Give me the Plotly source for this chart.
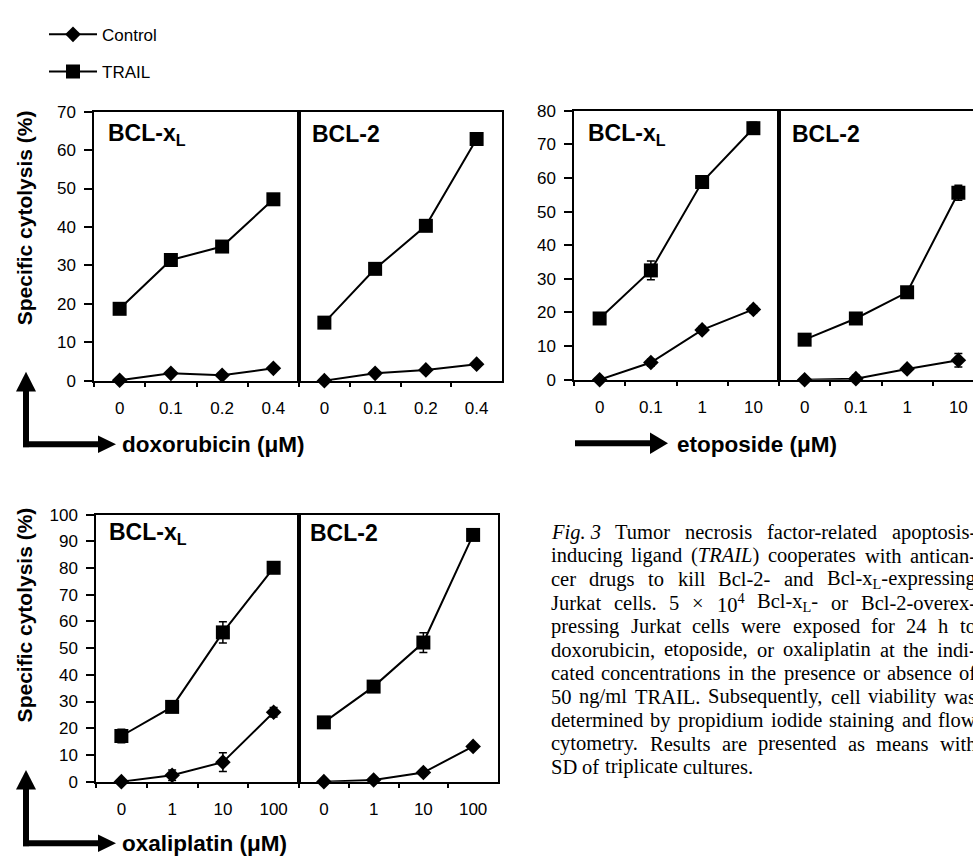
import re
import plotly.graph_objects as go

W, H = 973, 865
SANS = "Liberation Sans, Arial, sans-serif"
SERIF = "Liberation Serif, Times New Roman, serif"

# ---------------- data ----------------
doxo_conc = ["0", "0.1", "0.2", "0.4"]
eto_conc = ["0", "0.1", "1", "10"]
oxa_conc = ["0", "1", "10", "100"]

doxo_xl_control = [0.1, 1.9, 1.4, 3.2]
doxo_xl_control_sd = [0.3, 0.6, 0.5, 0.5]
doxo_xl_trail = [18.7, 31.4, 34.9, 47.2]
doxo_xl_trail_sd = [0.5, 0.8, 0.6, 0.8]
doxo_b2_control = [0.0, 1.9, 2.8, 4.3]
doxo_b2_control_sd = [0.3, 0.5, 0.5, 0.6]
doxo_b2_trail = [15.1, 29.1, 40.3, 62.9]
doxo_b2_trail_sd = [0.8, 1.0, 1.0, 1.2]

eto_xl_control = [0.0, 5.1, 14.8, 20.9]
eto_xl_control_sd = [0.3, 1.0, 1.0, 1.0]
eto_xl_trail = [18.2, 32.5, 58.8, 74.8]
eto_xl_trail_sd = [0.8, 2.8, 1.0, 1.8]
eto_b2_control = [0.0, 0.3, 3.2, 5.8]
eto_b2_control_sd = [0.3, 1.0, 0.6, 2.0]
eto_b2_trail = [11.9, 18.2, 26.0, 55.6]
eto_b2_trail_sd = [0.5, 1.0, 1.0, 2.2]

oxa_xl_control = [0.0, 2.4, 7.3, 26.0]
oxa_xl_control_sd = [0.3, 2.0, 3.5, 1.8]
oxa_xl_trail = [17.1, 28.0, 55.9, 80.1]
oxa_xl_trail_sd = [2.5, 2.0, 4.0, 1.5]
oxa_b2_control = [0.0, 0.6, 3.4, 13.2]
oxa_b2_control_sd = [0.2, 0.5, 1.0, 1.0]
oxa_b2_trail = [22.2, 35.6, 52.1, 92.4]
oxa_b2_trail_sd = [1.0, 1.0, 3.7, 1.0]

y_max = {"doxo": 70, "eto": 80, "oxa": 100}

caption_lines = [
    ["<i>Fig. 3</i>", "Tumor", "necrosis", "factor-related", "apoptosis-"],
    ["inducing", "ligand", "(<i>TRAIL</i>)", "cooperates", "with", "antican-"],
    ["cer", "drugs", "to", "kill", "Bcl-2-", "and", "Bcl-x<sub>L</sub>-expressing"],
    ["Jurkat", "cells.", "5", "\u00d7", "10<sup>4</sup>", "Bcl-x<sub>L</sub>-", "or", "Bcl-2-overex-"],
    ["pressing", "Jurkat", "cells", "were", "exposed", "for", "24", "h", "to"],
    ["doxorubicin,", "etoposide,", "or", "oxaliplatin", "at", "the", "indi-"],
    ["cated", "concentrations", "in", "the", "presence", "or", "absence", "of"],
    ["50", "ng/ml", "TRAIL.", "Subsequently,", "cell", "viability", "was"],
    ["determined", "by", "propidium", "iodide", "staining", "and", "flow"],
    ["cytometry.", "Results", "are", "presented", "as", "means", "with"],
    ["SD", "of", "triplicate", "cultures."],
]


def px(p):
    return p / W


def py(p):
    return 1 - p / H


fig = go.Figure()

panels = [
    dict(key="doxo", cats=doxo_conc, xl=(94, 299, 502), yb=(380, 105),
         data=[(doxo_xl_control, doxo_xl_control_sd, doxo_xl_trail, doxo_xl_trail_sd),
               (doxo_b2_control, doxo_b2_control_sd, doxo_b2_trail, doxo_b2_trail_sd)],
         cut=False),
    dict(key="eto", cats=eto_conc, xl=(574, 779, 973), yb=(379, 104),
         data=[(eto_xl_control, eto_xl_control_sd, eto_xl_trail, eto_xl_trail_sd),
               (eto_b2_control, eto_b2_control_sd, eto_b2_trail, eto_b2_trail_sd)],
         cut=True),
    dict(key="oxa", cats=oxa_conc, xl=(96, 299, 498), yb=(790, 517),
         data=[(oxa_xl_control, oxa_xl_control_sd, oxa_xl_trail, oxa_xl_trail_sd),
               (oxa_b2_control, oxa_b2_control_sd, oxa_b2_trail, oxa_b2_trail_sd)],
         cut=False),
]

layout_axes = {}
ax_i = 0
first = True
for p in panels:
    x0, xm, x1 = p["xl"]
    yb, yt = p["yb"]
    catw = (xm - x0) / 4.0
    for side in range(2):
        ax_i += 1
        xn = "x" if ax_i == 1 else f"x{ax_i}"
        yn = "y" if ax_i == 1 else f"y{ax_i}"
        xk = "xaxis" if ax_i == 1 else f"xaxis{ax_i}"
        yk = "yaxis" if ax_i == 1 else f"yaxis{ax_i}"
        dom = [px(x0), px(xm)] if side == 0 else [px(xm), px(x1)]
        rng_end = 3.5 if side == 0 or not p["cut"] else -0.5 + (x1 - xm) / catw
        layout_axes[xk] = dict(
            domain=dom, anchor=yn, type="category", range=[-0.5, rng_end],
            showline=True, linecolor="black", linewidth=1.5, mirror=True,
            ticks="outside", tickson="boundaries", ticklen=5, tickwidth=1.5,
            tickcolor="black", showgrid=False, zeroline=False,
            tickfont=dict(family=SANS, size=17, color="black"),
            ticklabelstandoff=11,
        )
        ycfg = dict(
            domain=[py(yb), py(yt)], anchor=xn, range=[0, y_max[p["key"]]],
            dtick=10, showline=True, linecolor="black", linewidth=1.5,
            showgrid=False, zeroline=False,
        )
        if side == 0:
            ycfg.update(ticks="outside", ticklen=8, tickwidth=1.5, tickcolor="black",
                        mirror=True, tickfont=dict(family=SANS, size=17, color="black"),
                        ticklabelstandoff=5)
        else:
            ycfg.update(ticks="", showticklabels=False, mirror=not p["cut"])
        layout_axes[yk] = ycfg

        ctrl, ctrl_sd, trail, trail_sd = p["data"][side]
        for name, vals, sd, sym, sz in [("Control", ctrl, ctrl_sd, "diamond", 12),
                                        ("TRAIL", trail, trail_sd, "square", 14)]:
            fig.add_trace(go.Scatter(
                x=p["cats"], y=vals, xaxis=xn, yaxis=yn, name=name,
                mode="lines+markers", cliponaxis=False,
                line=dict(color="black", width=2),
                marker=dict(symbol=sym, size=sz, color="black"),
                error_y=dict(type="data", array=sd, color="black", thickness=1.5, width=4),
                showlegend=first, legendgroup=name,
            ))
        first = False

annotations = []
for (xa, xb, yc) in [(106, 310, 128), (586, 790, 128), (107, 308, 536)]:
    annotations.append(dict(x=px(xa), y=py(yc), xref="paper", yref="paper",
                            text="<b>BCL-x<sub>L</sub></b>", showarrow=False,
                            xanchor="left", yanchor="middle",
                            font=dict(family=SANS, size=23, color="black")))
    annotations.append(dict(x=px(xb), y=py(yc), xref="paper", yref="paper",
                            text="<b>BCL-2</b>", showarrow=False,
                            xanchor="left", yanchor="middle",
                            font=dict(family=SANS, size=23, color="black")))
for (t, xa, yc) in [("doxorubicin (\u03bcM)", 120, 445), ("etoposide (\u03bcM)", 675, 445),
                    ("oxaliplatin (\u03bcM)", 120, 853)]:
    annotations.append(dict(x=px(xa), y=py(yc), xref="paper", yref="paper",
                            text=f"<b>{t}</b>", showarrow=False,
                            xanchor="left", yanchor="middle",
                            font=dict(family=SANS, size=22.5, color="black")))
for yc in [214, 620]:
    annotations.append(dict(x=px(24), y=py(yc), xref="paper", yref="paper",
                            text="<b>Specific cytolysis (%)</b>", showarrow=False,
                            textangle=-90, xanchor="center", yanchor="middle",
                            font=dict(family=SANS, size=21, color="black")))

TIMES = {' ': 250, '!': 333, '(': 333, ')': 333, ',': 250, '-': 333, '.': 250, '/': 278,
         ':': 278, ';': 278, '\u00d7': 564}
for d in "0123456789":
    TIMES[d] = 500
TIMES.update(dict(zip("ABCDEFGHIJKLMNOPQRSTUVWXYZ",
                      [722, 667, 667, 722, 611, 556, 722, 722, 333, 389, 722, 611, 889, 722,
                       722, 556, 722, 667, 556, 611, 722, 722, 944, 722, 722, 611])))
TIMES.update(dict(zip("abcdefghijklmnopqrstuvwxyz",
                      [444, 500, 444, 500, 444, 333, 500, 500, 278, 278, 500, 278, 778, 500,
                       500, 500, 500, 333, 389, 278, 500, 500, 722, 500, 500, 444])))
TIMES_I = dict(TIMES)
TIMES_I.update({'F': 611, 'T': 556, 'R': 611, 'A': 611, 'L': 556, 'g': 500})


def html_width(s, fs):
    w = 0.0
    scale = 1.0
    italic = False
    for tok in re.split(r'(<[^>]+>)', s):
        if tok.startswith('<'):
            closing = tok.startswith('</')
            tag = tok.strip('<>/').lower()
            if tag in ('sub', 'sup'):
                scale = 1.0 if closing else 0.7
            elif tag == 'i':
                italic = not closing
            continue
        tbl = TIMES_I if italic else TIMES
        for ch in tok:
            w += tbl.get(ch, 500) / 1000.0 * fs * scale
    return w


CAP_FS = 20.5
CAP_L, CAP_R = 551, 976
CAP_Y0, CAP_DY = 535, 24
for i, words in enumerate(caption_lines):
    widths = [html_width(w, CAP_FS) for w in words]
    if i < len(caption_lines) - 1:
        gap = (CAP_R - CAP_L - sum(widths)) / (len(words) - 1)
    else:
        gap = 0.25 * CAP_FS
    xcur = CAP_L
    for w, wd in zip(words, widths):
        annotations.append(dict(x=px(xcur - 2), y=py(CAP_Y0 + i * CAP_DY), xref="paper",
                                yref="paper", text=w, showarrow=False, xanchor="left",
                                yanchor="middle",
                                font=dict(family=SERIF, size=CAP_FS, color="black")))
        xcur += wd + gap

shapes = []


def hline_arrow(xs, xe, y, head=18, half=9, lw=6):
    shapes.append(dict(type="line", xref="paper", yref="paper", x0=px(xs), x1=px(xe - head + 1),
                       y0=py(y), y1=py(y), line=dict(color="black", width=lw)))
    shapes.append(dict(type="path", xref="paper", yref="paper",
                       path=f"M {px(xe - head)} {py(y - half)} L {px(xe)} {py(y)} L {px(xe - head)} {py(y + half)} Z",
                       fillcolor="black", line=dict(color="black", width=0)))


def vline_arrow(x, ys, ye, head=20, half=10, lw=6):
    shapes.append(dict(type="line", xref="paper", yref="paper", x0=px(x), x1=px(x),
                       y0=py(ys), y1=py(ye + head - 1), line=dict(color="black", width=lw)))
    shapes.append(dict(type="path", xref="paper", yref="paper",
                       path=f"M {px(x - half)} {py(ye + head)} L {px(x)} {py(ye)} L {px(x + half)} {py(ye + head)} Z",
                       fillcolor="black", line=dict(color="black", width=0)))


vline_arrow(26, 448, 371)
hline_arrow(23, 116, 445)
vline_arrow(26, 856, 778)
hline_arrow(23, 116, 853)
hline_arrow(575, 668, 444, head=18, half=11)

fig.update_layout(
    width=W, height=H, margin=dict(l=0, r=0, t=0, b=0),
    paper_bgcolor="white", plot_bgcolor="white",
    font=dict(family=SANS, color="black"),
    annotations=annotations, shapes=shapes,
    legend=dict(x=px(44), y=py(8), xanchor="left", yanchor="top",
                font=dict(family=SANS, size=17, color="black"),
                itemwidth=48, tracegroupgap=12, traceorder="grouped",
                bgcolor="rgba(0,0,0,0)"),
    **layout_axes,
)

fig.write_html("out.html", config={"displayModeBar": False},
               post_script="document.body.style.margin='0';document.body.style.overflow='hidden';")
